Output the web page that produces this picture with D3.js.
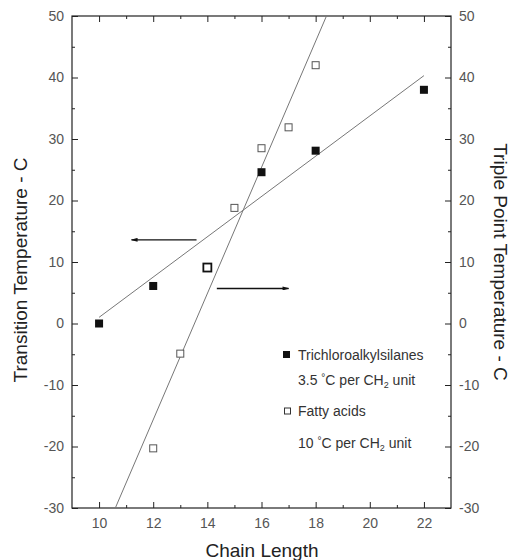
<!DOCTYPE html>
<html>
<head>
<meta charset="utf-8">
<script src="https://cdn.jsdelivr.net/npm/d3@7"></script>
<style>
  body { margin: 0; background: #fff; }
  svg { font-family: "Liberation Sans", Arial, sans-serif; }
</style>
</head>
<body>
<svg id="chart" width="512" height="560"></svg>
<script>
// chain length vs temperature
const trichloroX = [10, 12, 16, 18, 22]
const trichloroY = [0, 6.1, 24.6, 28.1, 38.0]
const trichloroOddX = [14]   // heavy open square at C14
const trichloroOddY = [9.1]
const fattyX = [12, 13, 15, 16, 17, 18]
const fattyY = [-20.3, -4.9, 18.8, 28.5, 31.9, 42.0]

// fitted lines (end points)
const trichloroFit = [[10, 1.0], [22, 40.3]]
const fattyFit = [[10.6, -30], [18.4, 50]]

// arrows pointing at the relevant axis
const arrows = [
  { from: [13.6, 13.6], to: [11.2, 13.6] },
  { from: [14.35, 5.7], to: [17.0, 5.7] }
]

const xTicks = [10, 12, 14, 16, 18, 20, 22]
const xMinor = [11, 13, 15, 17, 19, 21]
const yTicks = [-30, -20, -10, 0, 10, 20, 30, 40, 50]
const yMinor = [-25, -15, -5, 5, 15, 25, 35, 45]

const svg = d3.select('#chart')
const x = d3.scaleLinear().domain([9, 23]).range([72, 451])
const y = d3.scaleLinear().domain([-30, 50]).range([508, 16])

const axisColor = '#222'
const labelColor = '#555'
const fmt = d => String(d)   // plain hyphen minus, as in the figure

function styleAxis (g) {
  g.select('.domain').remove()
  g.selectAll('.tick line').attr('stroke', axisColor).attr('stroke-width', 1)
  g.selectAll('.tick text')
    .attr('fill', labelColor)
    .style('font-size', '14px')
}

// major ticks with labels
svg.append('g').attr('transform', `translate(0,${y(-30)})`)
  .call(d3.axisBottom(x).tickValues(xTicks).tickSize(-6).tickPadding(10).tickFormat(fmt))
  .call(styleAxis)
svg.append('g').attr('transform', `translate(${x(9)},0)`)
  .call(d3.axisLeft(y).tickValues(yTicks).tickSize(-6).tickPadding(8).tickFormat(fmt))
  .call(styleAxis)
svg.append('g').attr('transform', `translate(${x(23)},0)`)
  .call(d3.axisRight(y).tickValues(yTicks).tickSize(-6).tickPadding(8).tickFormat(fmt))
  .call(styleAxis)
svg.append('g').attr('transform', `translate(0,${y(50)})`)
  .call(d3.axisTop(x).tickValues(xTicks).tickSize(-6).tickFormat(''))
  .call(styleAxis)

// minor ticks
svg.append('g').attr('transform', `translate(0,${y(-30)})`)
  .call(d3.axisBottom(x).tickValues(xMinor).tickSize(-3).tickFormat(''))
  .call(styleAxis)
svg.append('g').attr('transform', `translate(0,${y(50)})`)
  .call(d3.axisTop(x).tickValues(xMinor).tickSize(-3).tickFormat(''))
  .call(styleAxis)
svg.append('g').attr('transform', `translate(${x(9)},0)`)
  .call(d3.axisLeft(y).tickValues(yMinor).tickSize(-3).tickFormat(''))
  .call(styleAxis)
svg.append('g').attr('transform', `translate(${x(23)},0)`)
  .call(d3.axisRight(y).tickValues(yMinor).tickSize(-3).tickFormat(''))
  .call(styleAxis)

// frame
svg.append('rect')
  .attr('x', x(9)).attr('y', y(50))
  .attr('width', x(23) - x(9)).attr('height', y(-30) - y(50))
  .attr('fill', 'none').attr('stroke', axisColor).attr('stroke-width', 1.2)

// fit lines
const line = d3.line().x(d => x(d[0])).y(d => y(d[1]))
svg.append('path').datum(trichloroFit).attr('d', line)
  .attr('fill', 'none').attr('stroke', '#777').attr('stroke-width', 1)
svg.append('path').datum(fattyFit).attr('d', line)
  .attr('fill', 'none').attr('stroke', '#777').attr('stroke-width', 1)

// arrows
svg.append('defs').append('marker')
  .attr('id', 'head')
  .attr('viewBox', '0 0 10 6')
  .attr('refX', 9).attr('refY', 3)
  .attr('markerWidth', 7).attr('markerHeight', 4)
  .attr('markerUnits', 'userSpaceOnUse')
  .attr('orient', 'auto')
  .append('path').attr('d', 'M0,0L10,3L0,6Z').attr('fill', '#111')

svg.selectAll('.arrow').data(arrows).join('line')
  .attr('class', 'arrow')
  .attr('x1', d => x(d.from[0])).attr('y1', d => y(d.from[1]))
  .attr('x2', d => x(d.to[0])).attr('y2', d => y(d.to[1]))
  .attr('stroke', '#111').attr('stroke-width', 1.4)
  .attr('marker-end', 'url(#head)')

// points
const fatty = d3.zip(fattyX, fattyY)
svg.selectAll('.fa').data(fatty).join('rect')
  .attr('class', 'fa')
  .attr('x', d => x(d[0]) - 3.5).attr('y', d => y(d[1]) - 3.5)
  .attr('width', 7).attr('height', 7)
  .attr('fill', '#fff').attr('stroke', '#555').attr('stroke-width', 1)

const tri = d3.zip(trichloroX, trichloroY)
svg.selectAll('.tc').data(tri).join('rect')
  .attr('class', 'tc')
  .attr('x', d => x(d[0]) - 4).attr('y', d => y(d[1]) - 4)
  .attr('width', 8).attr('height', 8)
  .attr('fill', '#111')

const triOdd = d3.zip(trichloroOddX, trichloroOddY)
svg.selectAll('.tco').data(triOdd).join('rect')
  .attr('class', 'tco')
  .attr('x', d => x(d[0]) - 4).attr('y', d => y(d[1]) - 4)
  .attr('width', 8).attr('height', 8)
  .attr('fill', '#fff').attr('stroke', '#111').attr('stroke-width', 1.8)

// legend
const lg = svg.append('g').style('font-size', '14px').attr('fill', '#333')
lg.append('rect').attr('x', 283).attr('y', 351).attr('width', 7).attr('height', 7).attr('fill', '#111')
lg.append('text').attr('x', 298).attr('y', 360).text('Trichloroalkylsilanes')

function perUnit (yy, val) {
  const tx = lg.append('text').attr('x', 298).attr('y', yy)
  tx.append('tspan').text(val + ' ')
  tx.append('tspan').attr('dy', -4).style('font-size', '10px').text('°')
  tx.append('tspan').attr('dy', 4).text('C per CH')
  tx.append('tspan').attr('dy', 3).style('font-size', '9px').text('2')
  tx.append('tspan').attr('dy', -3).text(' unit')
}
perUnit(385, '3.5')

lg.append('rect').attr('x', 284.5).attr('y', 408).attr('width', 6).attr('height', 6)
  .attr('fill', '#fff').attr('stroke', '#333').attr('stroke-width', 1)
lg.append('text').attr('x', 298).attr('y', 416).text('Fatty acids')
perUnit(448, '10')

// axis titles
svg.append('text')
  .attr('transform', `translate(27,${(y(50) + y(-30)) / 2 + 8}) rotate(-90)`)
  .attr('text-anchor', 'middle')
  .style('font-size', '19px').attr('fill', '#222')
  .text('Transition Temperature - C')

svg.append('text')
  .attr('transform', `translate(494,${(y(50) + y(-30)) / 2}) rotate(90)`)
  .attr('text-anchor', 'middle')
  .style('font-size', '19px').attr('fill', '#222')
  .text('Triple Point Temperature - C')

svg.append('text')
  .attr('x', 262).attr('y', 557)
  .attr('text-anchor', 'middle')
  .style('font-size', '19px').attr('fill', '#222')
  .text('Chain Length')
</script>
</body>
</html>
